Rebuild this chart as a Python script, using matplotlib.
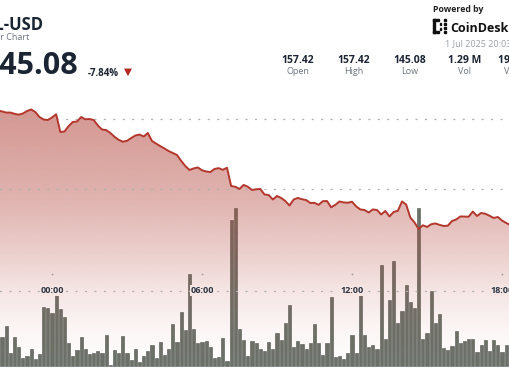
import matplotlib.pyplot as plt
from matplotlib.patches import Rectangle
import numpy as np

plt.rcParams['font.family'] = ['Open Sans', 'DejaVu Sans']

W, H = 510, 369

# SOL-USD, 10 minute steps, index 13 = 00:00
hours = (np.arange(124) - 13) / 6

price = [155.61, 155.54, 155.46, 155.46, 155.37, 155.31, 155.39, 155.57, 155.68, 155.50,
         155.14, 154.96, 154.93, 155.11, 155.34, 154.07, 154.11, 154.50, 154.79, 154.82,
         155.14, 154.98, 155.00, 154.93, 154.54, 154.25, 154.21, 154.00, 153.73, 153.51,
         153.38, 153.44, 153.64, 153.82, 153.89, 153.75, 154.00, 153.43, 153.24, 153.06,
         152.89, 152.71, 152.57, 152.43, 152.01, 151.64, 151.36, 151.47, 151.54, 151.34,
         151.25, 151.21, 151.43, 151.49, 151.37, 151.52, 150.21, 150.16, 150.00, 150.29,
         150.16, 149.93, 149.98, 150.00, 149.61, 149.57, 149.25, 149.50, 149.36, 149.14,
         148.82, 149.25, 149.36, 149.27, 149.21, 149.00, 149.01, 148.87, 149.13, 149.14,
         148.69, 148.87, 149.11, 149.04, 149.02, 149.09, 148.76, 148.54, 148.50, 148.32,
         148.54, 148.50, 148.18, 148.43, 148.04, 148.36, 148.44, 149.11, 148.89, 147.96,
         147.61, 147.14, 147.41, 147.29, 147.48, 147.54, 147.44, 147.36, 147.38, 147.71,
         147.82, 148.04, 148.03, 148.02, 148.39, 148.07, 148.29, 148.23, 148.09, 147.93,
         148.00, 147.75, 147.57, 147.43]

volume = [38, 29, 40, 13.5, 29, 19, 8, 10, 17, 7,
          12, 59, 58, 53, 75, 57, 49, 23, 10, 16,
          29, 17, 12, 13, 15, 13, 31, 1, 16, 13,
          30, 13, 6, 17, 4, 10, 15, 21, 8, 24,
          11, 17, 42, 24, 54, 36, 92, 37, 23, 24,
          25, 19, 8, 9, 28, 5, 146, 158, 37, 26,
          10, 25, 23, 17, 15, 24, 17, 33, 26, 43,
          61, 19, 25, 22, 17, 23, 42, 23, 11, 23,
          69, 9, 10, 7, 13, 31, 13, 75, 31, 19,
          21, 17, 101, 27, 66, 105, 43, 55, 81, 64,
          58, 158, 27, 33, 75, 43, 52, 18, 16, 20,
          35, 23, 25, 27, 27, 14, 21, 26, 15, 26,
          21, 14, 21, 38]

time_ticks = [0, 6, 12, 18]
time_labels = ['00:00', '06:00', '12:00', '18:00']
grid_prices = [155, 150]

stat_values = ['157.42', '157.42', '145.08', '1.29 M', '193.55 M']
stat_names = ['Open', 'High', 'Low', 'Vol', 'Vol USD']

fig = plt.figure(figsize=(W / 100, H / 100), dpi=100)
fig.patch.set_facecolor('white')


def fx(x):
    return x / W


def fy(y):
    return 1 - y / H


# volume bars (underneath)
ax = fig.add_axes([0, 0, 1, 1])
ax.bar(hours, volume, width=0.132, color='#6b7169', edgecolor='#4f564f',
       linewidth=0.4, zorder=1)
ax.set_ylim(-3, 366)
ax.axis('off')

# price on top
ax2 = ax.twinx()
xl = (-2.08, 18.32)
yl = (150 - 180 / 14, 150 + 189 / 14)

rows = np.arange(H)
alpha = np.interp(rows, [0, 90, 150, 200, 250, 290, 330, 369],
                  [0.60, 0.60, 0.50, 0.41, 0.27, 0.14, 0.05, 0.0])
grad = np.zeros((H, 1, 4))
grad[:, 0, :3] = np.array([180, 72, 62]) / 255
grad[:, 0, 3] = alpha
im = ax2.imshow(grad, extent=[xl[0], xl[1], yl[0], yl[1]], origin='upper',
                aspect='auto', interpolation='bilinear', zorder=2)
poly = ax2.fill_between(hours, price, yl[0] - 5, facecolor='none', edgecolor='none')
im.set_clip_path(poly.get_paths()[0], transform=ax2.transData)

for p in grid_prices:
    ax2.axhline(p, color='#b0b0b0', lw=1.0, ls=(0, (0.7, 6.1)),
                dash_capstyle='round', zorder=3)
row_y = 1 - 290.7 / H
ax2.plot([0, 1], [row_y, row_y], transform=ax2.transAxes, color='#b0b0b0',
         lw=1.0, ls=(0, (0.7, 6.1)), dash_capstyle='round', zorder=3)

ax2.plot(hours, price, color='#b3372c', lw=1.4, solid_joinstyle='round', zorder=4)

for t, lab in zip(time_ticks, time_labels):
    ax2.text(t, row_y, lab, transform=ax2.get_xaxis_transform(), ha='center',
             va='center', fontsize=6.5, fontweight='bold', color='#2b3442',
             bbox=dict(boxstyle='square,pad=0.08', fc='#f5e6e4', ec='none'), zorder=5)
    ax2.plot(t, 1 - 274.3 / H, transform=ax2.get_xaxis_transform(), marker='o',
             ms=1.3, color='#a0a0a0', mec='none', zorder=5)

ax2.set_xlim(*xl)
ax2.set_ylim(*yl)
ax2.axis('off')

# header
fig.text(fx(43), fy(30), 'SOL-USD', ha='right', va='baseline', fontsize=12,
         fontweight='bold', color='#1b2433')
fig.text(fx(29), fy(40), '24 Hour Chart', ha='right', va='baseline', fontsize=6.5,
         color='#6b7280')
fig.text(fx(78), fy(74), '145.08', ha='right', va='baseline', fontsize=22,
         fontweight='bold', color='#1b2433')
fig.text(fx(88), fy(75.5), '-7.84%', ha='left', va='baseline', fontsize=7,
         fontweight='bold', color='#1b2433')
fig.text(fx(128), fy(72), '▼', ha='center', va='center', fontsize=7.5,
         color='#b3261e', family='DejaVu Sans')

centers = [297.7, 354, 409.3, 465, 521]
for cx, v, n in zip(centers, stat_values, stat_names):
    fig.text(fx(cx), fy(62.7), v, ha='center', va='baseline', fontsize=7.5,
             fontweight='bold', color='#1b2433')
    fig.text(fx(cx), fy(74.5), n, ha='center', va='baseline', fontsize=6.5,
             color='#6b7280')

fig.text(fx(433), fy(12.5), 'Powered by', ha='left', va='baseline', fontsize=6.3,
         fontweight='bold', color='#222222')
fig.text(fx(450), fy(32), 'CoinDesk', ha='left', va='baseline', fontsize=9,
         fontweight='bold', color='#111111')
fig.text(fx(445), fy(46), '1 Jul 2025 20:03', ha='left', va='baseline', fontsize=6.5,
         color='#9aa0a6')

# little logo mark
logo = [(433, 19, 2.5, 14), (433, 19, 6, 2.2), (433, 30.8, 6, 2.2),
        (439.5, 23, 1.8, 1.8), (439.5, 28, 1.8, 1.8),
        (444, 19, 2.2, 2.2), (444, 23, 2.2, 2.2), (444, 27, 2.2, 2.2), (444, 30.8, 2.2, 2.2)]
for x0, y0, w, h in logo:
    fig.patches.append(Rectangle((fx(x0), fy(y0 + h)), w / W, h / H,
                                 transform=fig.transFigure, color='#111111'))

fig.savefig('out.png', dpi=100, facecolor='white')
